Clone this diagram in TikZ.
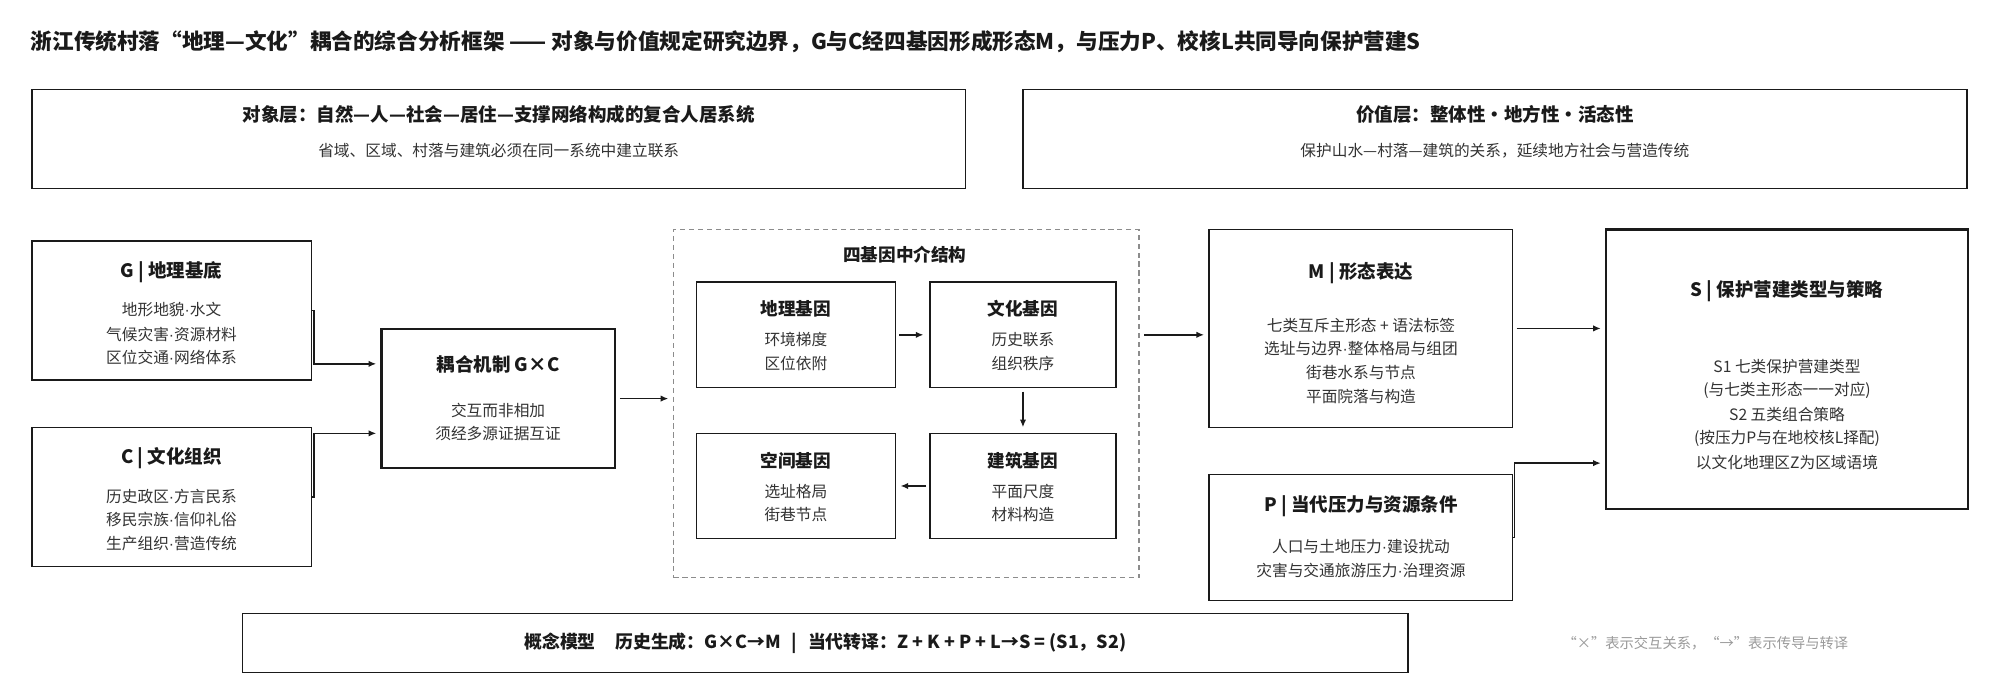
\documentclass[tikz,border=0pt]{standalone}
\usepackage{fontspec}
\setmainfont{Noto Sans CJK SC}
\newfontfamily\latdot{Liberation Sans}
\newcommand\md{{\latdot ·}}
\usetikzlibrary{arrows.meta,calc}
\definecolor{ink}{HTML}{1A1A1A}
\definecolor{bodyc}{HTML}{333333}
\definecolor{notec}{HTML}{9A9A9A}
\definecolor{dashc}{HTML}{8C8C8C}
\begin{document}
\begin{tikzpicture}[x=1pt,y=-1pt,
  box/.style={draw=ink,line width=1.1pt,inner sep=0pt,outer sep=0pt},
  heavy/.style={box,line width=2pt},
  dbox/.style={draw=dashc,line width=1pt,dash pattern=on 4pt off 3pt,inner sep=0pt,outer sep=0pt},
  maint/.style={font=\bfseries\fontsize{16.95}{19}\selectfont,text=ink,inner sep=0pt,anchor=west},
  ttl/.style={font=\bfseries\fontsize{14.5}{17}\selectfont,text=ink,inner sep=0pt},
  gtl/.style={font=\bfseries\fontsize{13.8}{16}\selectfont,text=ink,inner sep=0pt},
  txt/.style={font=\fontsize{12.3}{14}\selectfont,text=bodyc,inner sep=0pt},
  notet/.style={font=\fontsize{11.2}{14}\selectfont,text=notec,inner sep=0pt},
  arr/.style={draw=ink,line width=1.2pt,-{Latex[length=6pt,width=5pt]}}
]
\useasboundingbox (0,0) rectangle (1568,543);
\fill[white] (0,0) rectangle (1568,543);

% title
\node[maint] (title) at (24,33) {浙江传统村落“地理—文化”耦合的综合分析框架 —— 对象与价值规定研究边界，G与C经四基因形成形态M，与压力P、校核L共同导向保护营建S};

% top layer boxes
\node[box,minimum width=732,minimum height=78] (TL) at (391,109) {};
\node[ttl] (TLt) at (391,90) {对象层：自然—人—社会—居住—支撑网络构成的复合人居系统};
\node[txt] (TLs) at (391,118) {省域、区域、村落与建筑必须在同一系统中建立联系};

\node[box,minimum width=740,minimum height=78] (TR) at (1172,109) {};
\node[ttl] (TRt) at (1172,90) {价值层：整体性·地方性·活态性};
\node[txt] (TRs) at (1172,118) {保护山水—村落—建筑的关系，延续地方社会与营造传统};

% G box
\node[box,minimum width=219,minimum height=109] (G) at (134.5,243.5) {};
\node[ttl] (Gt) at (134.5,213) {G | 地理基底};
\node[txt] (G1) at (134.5,243) {地形地貌\md 水文};
\node[txt] (G2) at (134.5,262) {气候灾害\md 资源材料};
\node[txt] (G3) at (134.5,280.5) {区位交通\md 网络体系};

% C box
\node[box,minimum width=219,minimum height=109] (C) at (134.5,389.5) {};
\node[ttl] (Ct) at (134.5,359) {C | 文化组织};
\node[txt] (C1) at (134.5,389) {历史政区\md 方言民系};
\node[txt] (C2) at (134.5,407.5) {移民宗族\md 信仰礼俗};
\node[txt] (C3) at (134.5,426) {生产组织\md 营造传统};

% coupling
\node[heavy,minimum width=183,minimum height=109] (K) at (390.5,312.5) {};
\node[ttl] (Kt) at (390.5,286) {耦合机制 G×C};
\node[txt] (K1) at (390.5,321.5) {交互而非相加};
\node[txt] (K2) at (390.5,340) {须经多源证据互证};

% dashed mediation box
\node[dbox,minimum width=365,minimum height=273] (D) at (710.5,316.5) {};
\node[gtl] (Dt) at (709.5,200) {四基因中介结构};

\node[box,minimum width=156,minimum height=83] (g1) at (624,262.5) {};
\node[gtl] (g1t) at (624,242) {地理基因};
\node[txt] (g1a) at (624,266) {环境梯度};
\node[txt] (g1b) at (624,285) {区位依附};

\node[box,minimum width=146,minimum height=83] (g2) at (802,262.5) {};
\node[gtl] (g2t) at (802,242) {文化基因};
\node[txt] (g2a) at (802,266) {历史联系};
\node[txt] (g2b) at (802,285) {组织秩序};

\node[box,minimum width=146,minimum height=82] (g3) at (802,381) {};
\node[gtl] (g3t) at (802,361) {建筑基因};
\node[txt] (g3a) at (802,385) {平面尺度};
\node[txt] (g3b) at (802,403.5) {材料构造};

\node[box,minimum width=156,minimum height=82] (g4) at (624,381) {};
\node[gtl] (g4t) at (624,361) {空间基因};
\node[txt] (g4a) at (624,385) {选址格局};
\node[txt] (g4b) at (624,403.5) {街巷节点};

% M box
\node[box,minimum width=238,minimum height=155] (M) at (1067,257.5) {};
\node[ttl] (Mt) at (1067,214) {M | 形态表达};
\node[txt] (M1) at (1067,255) {七类互斥主形态 + 语法标签};
\node[txt] (M2) at (1067,273.5) {选址与边界\md 整体格局与组团};
\node[txt] (M3) at (1067,292) {街巷水系与节点};
\node[txt] (M4) at (1067,311) {平面院落与构造};

% P box
\node[box,minimum width=238,minimum height=99] (P) at (1067,421.5) {};
\node[ttl] (Pt) at (1067,397) {P | 当代压力与资源条件};
\node[txt] (P1) at (1067,428.5) {人口与土地压力\md 建设扰动};
\node[txt] (P2) at (1067,447.5) {灾害与交通旅游压力\md 治理资源};

% S box
\node[heavy,minimum width=284,minimum height=219] (S) at (1401,289.5) {};
\node[ttl] (St) at (1401,228) {S | 保护营建类型与策略};
\node[txt] (S1) at (1401,287) {S1 七类保护营建类型};
\node[txt] (S2) at (1401,306) {(与七类主形态一一对应)};
\node[txt] (S3) at (1401,325) {S2 五类组合策略};
\node[txt] (S4) at (1401,344) {(按压力P与在地校核L择配)};
\node[txt] (S5) at (1401,363) {以文化地理区Z为区域语境};

% bottom model box
\node[box,minimum width=914,minimum height=46] (B) at (647,504) {};
\node[ttl,font=\bfseries\fontsize{14}{16}\selectfont] (Bt) at (647,504) {概念模型\hspace{1.1em}历史生成：G×C→M\hspace{0.6em}|\hspace{0.6em}当代转译：Z + K + P + L→S = (S1，S2)};

% note
\node[notet] (note) at (1337,504) {“×”表示交互关系，“→”表示传导与转译};

% connectors
\coordinate (Kin1) at ($(K.north west)!0.25!(K.south west)$);
\coordinate (Kin2) at ($(K.north west)!0.75!(K.south west)$);
\draw[arr,shorten >=4pt] (G.east) -- ++(2,0) |- (Kin1);
\draw[arr,shorten >=4pt] (C.east) -- ++(2,0) |- (Kin2);
\draw[arr,shorten <=4pt,shorten >=4pt] (K.east) -- (D.west |- K.east);
\draw[arr,shorten <=4pt,shorten >=4pt] (D.east |- g2.east) -- (M.west |- g2.east);
\draw[arr,shorten <=3pt,shorten >=4pt] (M.east) -- (S.west |- M.east);
\coordinate (Sin) at ($(S.north west)!0.836!(S.south west)$);
\draw[arr,shorten >=4pt] (P.east) -- ++(1.5,0) |- (Sin);
\draw[arr,shorten <=3pt,shorten >=5pt] (g1.east) -- (g2.west);
\draw[arr,shorten <=3pt,shorten >=5pt] (g2.south) -- (g3.north);
\draw[arr,shorten <=3pt,shorten >=4pt] (g3.west) -- (g4.east);
\end{tikzpicture}
\end{document}
